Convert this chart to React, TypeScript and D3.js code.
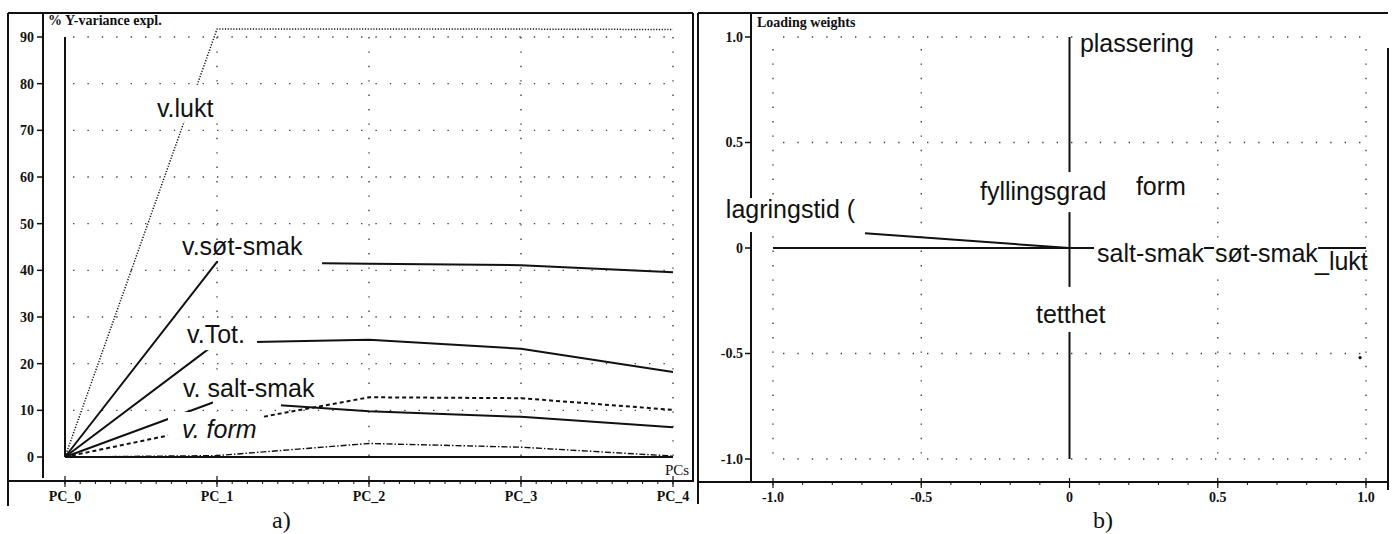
import React from "react";
import * as d3 from "d3";

// ---------- Panel a) data ----------
const PCS = ["PC_0", "PC_1", "PC_2", "PC_3", "PC_4"];
const Y_TICKS_A = [0, 10, 20, 30, 40, 50, 60, 70, 80, 90];
const LUKT = [0, 91.7, 91.7, 91.7, 91.6];
const SOT_SMAK = [0, 41.8, 41.4, 41.1, 39.6];
const TOT = [0, 24.5, 25.1, 23.2, 18.2];
const SALT_SMAK = [0, 12.0, 9.8, 8.6, 6.4];
const FORM = [0, 6.8, 12.8, 12.6, 10.1];
const REST = [0, 0.3, 2.9, 2.1, 0.2];
const ZERO = [0, 0, 0, 0, 0];
const LABELS_A = ["v.lukt", "v.søt-smak", "v.Tot.", "v. salt-smak", "v. form"];
const LABEL_PC_A = [0.605, 0.77, 0.803, 0.776, 0.77];
const LABEL_VAL_A = [72.9, 43.3, 24.4, 12.9, 4.07];

// ---------- Panel b) data ----------
const X_TICKS_B = [-1, -0.5, 0, 0.5, 1];
const X_TICK_LABELS_B = ["-1.0", "-0.5", "0", "0.5", "1.0"];
const Y_TICKS_B = [1, 0.5, 0, -0.5, -1];
const Y_TICK_LABELS_B = ["1.0", "0.5", "0", "-0.5", "-1.0"];
const LOAD_LINE_X = [-0.69];
const LOAD_LINE_Y = [0.07];
const POINT_X = [0.98];
const POINT_Y = [-0.52];
const LABELS_B = ["plassering", "fyllingsgrad", "form", "lagringstid (", "salt-smak", "søt-smak", "_lukt", "tetthet"];
const LABEL_X_B = [0.035, -0.302, 0.224, -1.159, 0.093, 0.491, 0.828, -0.113];
const LABEL_Y_B = [0.929, 0.227, 0.251, 0.142, -0.066, -0.066, -0.104, -0.355];

const SANS = "'Liberation Sans', Arial, sans-serif";
const SERIF = "'Liberation Serif', 'Times New Roman', serif";
const INK = "#111";

export default function App() {
  // Panel a scales
  const xa = d3.scaleLinear().domain([0, 4]).range([65, 673]);
  const ya = d3.scaleLinear().domain([0, 90]).range([457, 37]);
  const lineA = d3
    .line<number>()
    .x((_, i) => xa(i))
    .y((d) => ya(d));

  const seriesA = [
    { v: LUKT, w: 1.5, dash: "1.2 1.6" },
    { v: SOT_SMAK, w: 2, dash: "" },
    { v: TOT, w: 2, dash: "" },
    { v: SALT_SMAK, w: 2, dash: "" },
    { v: FORM, w: 2, dash: "4 3" },
    { v: REST, w: 1.4, dash: "6 2 1.5 2" },
    { v: ZERO, w: 2.2, dash: "" },
  ];
  // label white boxes: [dx, dyTop, w, h] relative to text anchor (start, baseline)
  const boxesA = [
    [-7, -32, 74, 37],
    [36, -27, 104, 38],
    [18, -25, 52, 32],
    [30, -19, 68, 29],
    [-14, -26, 94, 33],
  ];

  // Panel b scales
  const xb = d3.scaleLinear().domain([-1, 1]).range([773, 1366]);
  const yb = d3.scaleLinear().domain([-1, 1]).range([459, 37]);
  const boxesB: (number[] | null)[] = [
    [-6, -24, 131, 32],
    [-5, -28, 143, 40],
    null,
    [-6, -20, 146, 34],
    [-3, -17, 110, 25],
    [-1, -17, 104, 25],
    null,
    [-4, -36, 80, 45],
  ];

  const gridStyle = { stroke: "#444", strokeWidth: 1.4, strokeDasharray: "1.4 13", fill: "none" };

  const minorA = d3.range(0, 40.01, 1).map((k) => k / 10);
  const minorB = d3.range(-10, 10.01, 1).map((k) => k / 10);

  return (
    <svg
      width={1394}
      height={534}
      style={{ position: "absolute", left: 0, top: 0, background: "#fff" }}
      xmlns="http://www.w3.org/2000/svg"
    >
      <rect x={0} y={0} width={1394} height={534} fill="#fff" />

      {/* ================= Panel a ================= */}
      {/* grid */}
      {Y_TICKS_A.filter((t) => t > 0).map((t) => (
        <line key={"gha" + t} x1={xa(0) + 8} x2={xa(4)} y1={ya(t)} y2={ya(t)} style={gridStyle} />
      ))}
      {[1, 2, 3, 4].map((i) => (
        <line key={"gva" + i} x1={xa(i)} x2={xa(i)} y1={ya(90)} y2={ya(0)} style={gridStyle} />
      ))}
      {/* vertical reference line at PC_0 */}
      <line x1={xa(0)} x2={xa(0)} y1={ya(90)} y2={ya(0)} stroke={INK} strokeWidth={2} />
      {/* series */}
      {seriesA.map((s, i) => (
        <path
          key={"sa" + i}
          d={lineA(s.v) || ""}
          fill="none"
          stroke={INK}
          strokeWidth={s.w}
          strokeDasharray={s.dash}
          strokeLinejoin="round"
        />
      ))}
      {/* y axis */}
      <line x1={43} x2={43} y1={13} y2={478} stroke={INK} strokeWidth={2} />
      {Y_TICKS_A.map((t) => (
        <g key={"yta" + t}>
          <line x1={37} x2={43} y1={ya(t)} y2={ya(t)} stroke={INK} strokeWidth={1.5} />
          <text
            x={34}
            y={ya(t)}
            dy="0.35em"
            textAnchor="end"
            fontFamily={SERIF}
            fontWeight="bold"
            fontSize={14}
            fill={INK}
          >
            {t}
          </text>
        </g>
      ))}
      {/* x axis */}
      <line x1={8} x2={693} y1={481} y2={481} stroke={INK} strokeWidth={2} />
      {minorA.map((m, i) => (
        <line key={"mta" + i} x1={xa(m)} x2={xa(m)} y1={481} y2={484} stroke={INK} strokeWidth={1} />
      ))}
      {PCS.map((p, i) => (
        <g key={"xta" + p}>
          <line x1={xa(i)} x2={xa(i)} y1={476} y2={487} stroke={INK} strokeWidth={1.2} />
          <text
            x={xa(i)}
            y={501}
            textAnchor="middle"
            fontFamily={SERIF}
            fontWeight="bold"
            fontSize={14}
            fill={INK}
          >
            {p}
          </text>
        </g>
      ))}
      <text x={665} y={475} fontFamily={SERIF} fontSize={15} fill={INK}>PCs</text>
      <text x={48} y={25} fontFamily={SERIF} fontWeight="bold" fontSize={14} fill={INK}>
        % Y-variance expl.
      </text>
      {/* labels with white boxes */}
      {LABELS_A.map((lab, i) => {
        const x = xa(LABEL_PC_A[i]);
        const y = ya(LABEL_VAL_A[i]);
        const b = boxesA[i];
        return (
          <g key={"la" + i}>
            <rect x={x + b[0]} y={y + b[1]} width={b[2]} height={b[3]} fill="#fff" />
            <text
              x={x}
              y={y}
              fontFamily={SANS}
              fontSize={25}
              fontStyle={i === 4 ? "italic" : "normal"}
              fill={INK}
            >
              {lab}
            </text>
          </g>
        );
      })}
      {/* frame a */}
      <line x1={8} x2={693} y1={13} y2={13} stroke={INK} strokeWidth={2} />
      <line x1={8} x2={8} y1={13} y2={506} stroke={INK} strokeWidth={2} />
      <line x1={693} x2={693} y1={13} y2={482} stroke={INK} strokeWidth={2} />
      <text x={272} y={528} fontFamily={SERIF} fontSize={24} fill={INK}>a)</text>

      {/* ================= Panel b ================= */}
      {[-1, -0.5, 0.5, 1].map((t) => (
        <line key={"ghb" + t} x1={xb(-1) + 10} x2={xb(1)} y1={yb(t)} y2={yb(t)} style={gridStyle} />
      ))}
      {[-1, -0.5, 0.5, 1].map((t) => (
        <line key={"gvb" + t} x1={xb(t)} x2={xb(t)} y1={yb(1) + 12} y2={yb(-1)} style={gridStyle} />
      ))}
      {/* origin cross lines */}
      <line x1={xb(0)} x2={xb(0)} y1={yb(1)} y2={yb(-1)} stroke={INK} strokeWidth={2} />
      <line x1={xb(-1)} x2={xb(1)} y1={yb(0)} y2={yb(0)} stroke={INK} strokeWidth={2} />
      {LOAD_LINE_X.map((lx, i) => (
        <line
          key={"ll" + i}
          x1={xb(0)}
          y1={yb(0)}
          x2={xb(lx)}
          y2={yb(LOAD_LINE_Y[i])}
          stroke={INK}
          strokeWidth={2}
        />
      ))}
      {POINT_X.map((px, i) => (
        <circle key={"pt" + i} cx={xb(px)} cy={yb(POINT_Y[i])} r={1.6} fill={INK} />
      ))}
      {/* y axis b */}
      <line x1={751} x2={751} y1={13} y2={482} stroke={INK} strokeWidth={2} />
      {Y_TICKS_B.map((t, i) => (
        <g key={"ytb" + t}>
          <line x1={745} x2={751} y1={yb(t)} y2={yb(t)} stroke={INK} strokeWidth={1.5} />
          <text
            x={743}
            y={yb(t)}
            dy="0.35em"
            textAnchor="end"
            fontFamily={SERIF}
            fontWeight="bold"
            fontSize={14}
            fill={INK}
          >
            {Y_TICK_LABELS_B[i]}
          </text>
        </g>
      ))}
      {/* x axis b */}
      <line x1={698} x2={1388} y1={482} y2={482} stroke={INK} strokeWidth={2} />
      {minorB.map((m, i) => (
        <line key={"mtb" + i} x1={xb(m)} x2={xb(m)} y1={482} y2={485} stroke={INK} strokeWidth={1} />
      ))}
      {X_TICKS_B.map((t, i) => (
        <g key={"xtb" + t}>
          <line x1={xb(t)} x2={xb(t)} y1={478} y2={488} stroke={INK} strokeWidth={1.2} />
          <text
            x={xb(t)}
            y={502}
            textAnchor="middle"
            fontFamily={SERIF}
            fontWeight="bold"
            fontSize={14}
            fill={INK}
          >
            {X_TICK_LABELS_B[i]}
          </text>
        </g>
      ))}
      <text x={757} y={27} fontFamily={SERIF} fontWeight="bold" fontSize={14} fill={INK}>
        Loading weights
      </text>
      {LABELS_B.map((lab, i) => {
        const x = xb(LABEL_X_B[i]);
        const y = yb(LABEL_Y_B[i]);
        const b = boxesB[i];
        return (
          <g key={"lb" + i}>
            {b && <rect x={x + b[0]} y={y + b[1]} width={b[2]} height={b[3]} fill="#fff" />}
            <text x={x} y={y} fontFamily={SANS} fontSize={25} fill={INK}>
              {lab}
            </text>
          </g>
        );
      })}
      {/* frame b */}
      <line x1={698} x2={1388} y1={13} y2={13} stroke={INK} strokeWidth={2} />
      <line x1={698} x2={698} y1={13} y2={504} stroke={INK} strokeWidth={2} />
      <line x1={1388} x2={1388} y1={48} y2={490} stroke={INK} strokeWidth={2} />
      <text x={1093} y={528} fontFamily={SERIF} fontSize={24} fill={INK}>b)</text>
    </svg>
  );
}
